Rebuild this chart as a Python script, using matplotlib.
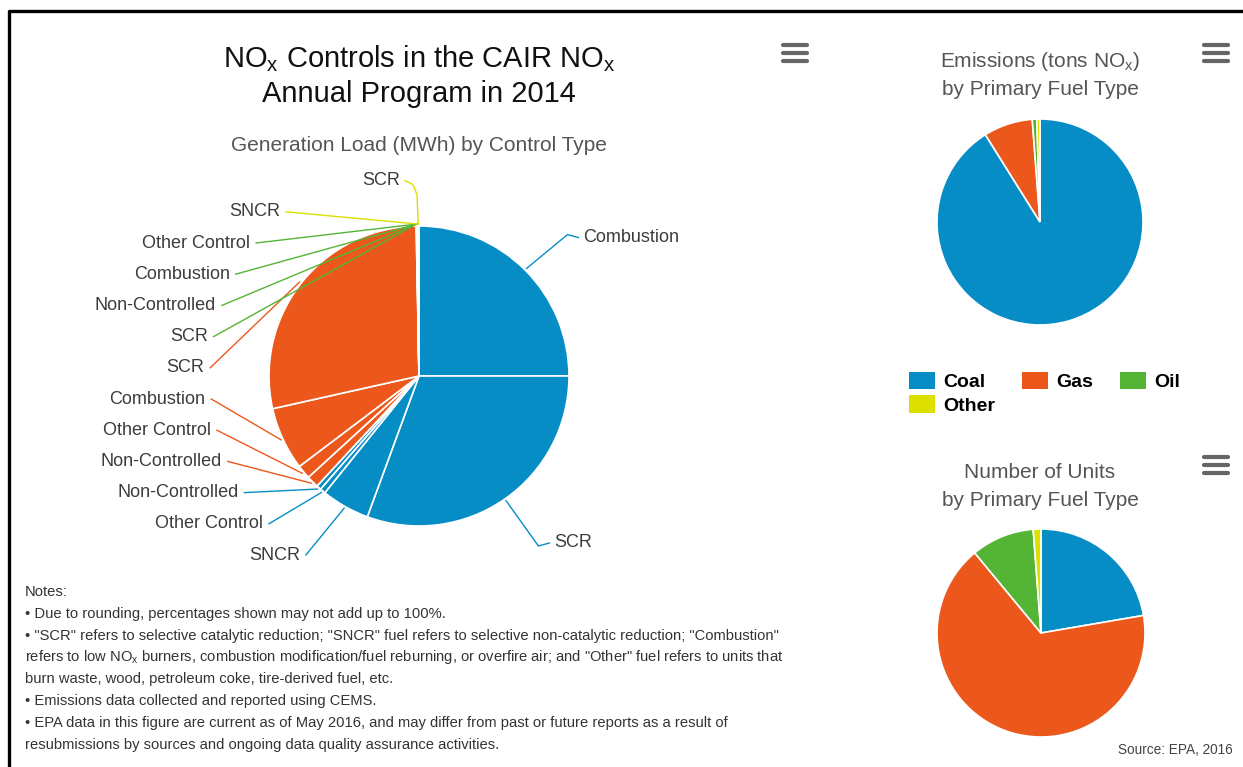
import matplotlib
matplotlib.use("Agg")
import matplotlib.pyplot as plt
from matplotlib.patches import Patch
import numpy as np

plt.rcParams['font.family'] = ['Liberation Sans', 'DejaVu Sans']
plt.rcParams['mathtext.fontset'] = 'custom'
plt.rcParams['mathtext.rm'] = 'Liberation Sans'
plt.rcParams['mathtext.it'] = 'Liberation Sans:italic'
plt.rcParams['mathtext.bf'] = 'Liberation Sans:bold'

# generation load share (%) by fuel / control type, clockwise from 12 o'clock
gen_fuels = ["Coal"] * 5 + ["Gas"] * 4 + ["Oil"] * 4 + ["Other"] * 2
gen_controls = ["Combustion", "SCR", "SNCR", "Other Control", "Non-Controlled",
                "Non-Controlled", "Other Control", "Combustion", "SCR",
                "SCR", "Non-Controlled", "Combustion", "Other Control",
                "SNCR", "SCR"]
gen_share = [25.0, 30.6, 5.2, 0.6, 0.5,
             1.3, 1.5, 6.8, 28.2,
             0.05, 0.03, 0.03, 0.02,
             0.02, 0.15]

fuel_types = ["Coal", "Gas", "Oil", "Other"]
emissions_share = [91.1, 7.7, 0.7, 0.5]
units_share = [22.3, 66.7, 9.8, 1.2]

fuel_colors = {"Coal": "#078dc6", "Gas": "#ec581c", "Oil": "#54b435", "Other": "#dcdf00"}

notes = [
    "Notes:",
    "\u2022 Due to rounding, percentages shown may not add up to 100%.",
    "\u2022 \"SCR\" refers to selective catalytic reduction; \"SNCR\" fuel refers to selective non-catalytic reduction; \"Combustion\"",
    "refers to low NO$_\\mathregular{x}$ burners, combustion modification/fuel reburning, or overfire air; and \"Other\" fuel refers to units that",
    "burn waste, wood, petroleum coke, tire-derived fuel, etc.",
    "\u2022 Emissions data collected and reported using CEMS.",
    "\u2022 EPA data in this figure are current as of May 2016, and may differ from past or future reports as a result of",
    "resubmissions by sources and ongoing data quality assurance activities.",
]

W, H = 1243, 767
fig = plt.figure(figsize=(W / 100, H / 100), dpi=100)
ax = fig.add_axes([0, 0, 1, 1])

# main pie (pixel coords, y axis inverted later -> startangle -90 is 12 o'clock)
cx, cy, r = 419, 376, 150
wedges, _ = ax.pie(gen_share, colors=[fuel_colors[f] for f in gen_fuels],
                   startangle=-90, counterclock=True, radius=r, center=(cx, cy),
                   wedgeprops=dict(edgecolor="white", linewidth=1.2))

lab_kw = dict(fontsize=13, color="#3c3c3c", va="center")
R_lab = 215
mids = [np.deg2rad((w.theta1 + w.theta2) / 2) for w in wedges]
left_idx = sorted([i for i in range(len(wedges)) if np.cos(mids[i]) < 0], key=lambda i: mids[i])
right_idx = [i for i in range(len(wedges)) if np.cos(mids[i]) >= 0]


def edge_point(i, extra=2):
    a = mids[i]
    return cx + (r + extra) * np.cos(a), cy + (r + extra) * np.sin(a)


def connector(i, pts):
    ex, ey = edge_point(i)
    xs = [p[0] for p in pts] + [ex]
    ys = [p[1] for p in pts] + [ey]
    ax.plot(xs, ys, color=fuel_colors[gen_fuels[i]], lw=1.0, solid_joinstyle="round")


# left side labels are stacked
for k, i in enumerate(left_idx):
    y = cy + 179 - k * 31.2
    dy = y - cy
    if abs(dy) > 0.9 * R_lab:
        x = cx - 19
        connector(i, [(x + 5, y), (x + 13, y + 4), (x + 17, y + 14)])
    else:
        x = cx - np.sqrt(R_lab ** 2 - dy ** 2)
        connector(i, [(x + 6, y)])
    ax.text(x, y, gen_controls[i], ha="right", **lab_kw)

for i in right_idx:
    y = cy + 3 + 200 * np.sin(mids[i])
    dy = y - cy
    x = cx + np.sqrt(R_lab ** 2 - dy ** 2)
    ax.text(x, y, gen_controls[i], ha="left", **lab_kw)
    connector(i, [(x - 5, y), (x - 16, y + 3 * np.sign(dy))])

# small pies
ax.pie(emissions_share, colors=[fuel_colors[f] for f in fuel_types],
       startangle=-90, counterclock=True, radius=103, center=(1040, 222),
       wedgeprops=dict(edgecolor="white", linewidth=1.2))
ax.pie(units_share, colors=[fuel_colors[f] for f in fuel_types],
       startangle=-90, counterclock=True, radius=104, center=(1041, 633),
       wedgeprops=dict(edgecolor="white", linewidth=1.2))

# titles
ax.text(cx, 67, r"NO$_\mathregular{x}$ Controls in the CAIR NO$_\mathregular{x}$",
        ha="center", va="baseline", fontsize=21, color="#111111")
ax.text(cx, 102, "Annual Program in 2014", ha="center", va="baseline", fontsize=21, color="#111111")
ax.text(cx, 151, "Generation Load (MWh) by Control Type", ha="center", va="baseline",
        fontsize=15, color="#555555")
ax.text(1040, 67, r"Emissions (tons NO$_\mathregular{x}$)", ha="center", va="baseline",
        fontsize=15, color="#555555")
ax.text(1040, 95, "by Primary Fuel Type", ha="center", va="baseline", fontsize=15, color="#555555")
ax.text(1040, 478, "Number of Units", ha="center", va="baseline", fontsize=15, color="#555555")
ax.text(1040, 506, "by Primary Fuel Type", ha="center", va="baseline", fontsize=15, color="#555555")

# legend (reordered so rows read Coal Gas Oil / Other)
handles = [Patch(facecolor=fuel_colors[f], label=f) for f in fuel_types]
order = [0, 3, 1, 2]
leg = ax.legend([handles[j] for j in order], [fuel_types[j] for j in order],
                loc="upper left", bbox_to_anchor=(909 / W, 1 - 372 / H), ncol=3,
                frameon=False, borderpad=0, borderaxespad=0, handlelength=1.34,
                handleheight=1.0, handletextpad=0.4, columnspacing=1.4,
                labelspacing=0.2, prop=dict(size=14, weight="bold"))

# notes + source
for k, line in enumerate(notes):
    ax.text(25, 592 + k * 21.8, line, ha="left", va="center", fontsize=10.6, color="#333333")
ax.text(1233, 750, "Source: EPA, 2016", ha="right", va="center", fontsize=9.8, color="#444444")

# menu icons
for hx, hy in [(795, 53), (1216, 53), (1216, 465)]:
    for d in (-8, 0, 8):
        ax.plot([hx - 12, hx + 12], [hy + d, hy + d], color="#666666", lw=3, solid_capstyle="round")

# frame lines on top and left
ax.plot([9, 9, W], [H, 11, 11], color="black", lw=2.4)

ax.set_xlim(0, W)
ax.set_ylim(H, 0)
ax.set_aspect("equal")
ax.axis("off")

fig.savefig("out.png", dpi=100)
